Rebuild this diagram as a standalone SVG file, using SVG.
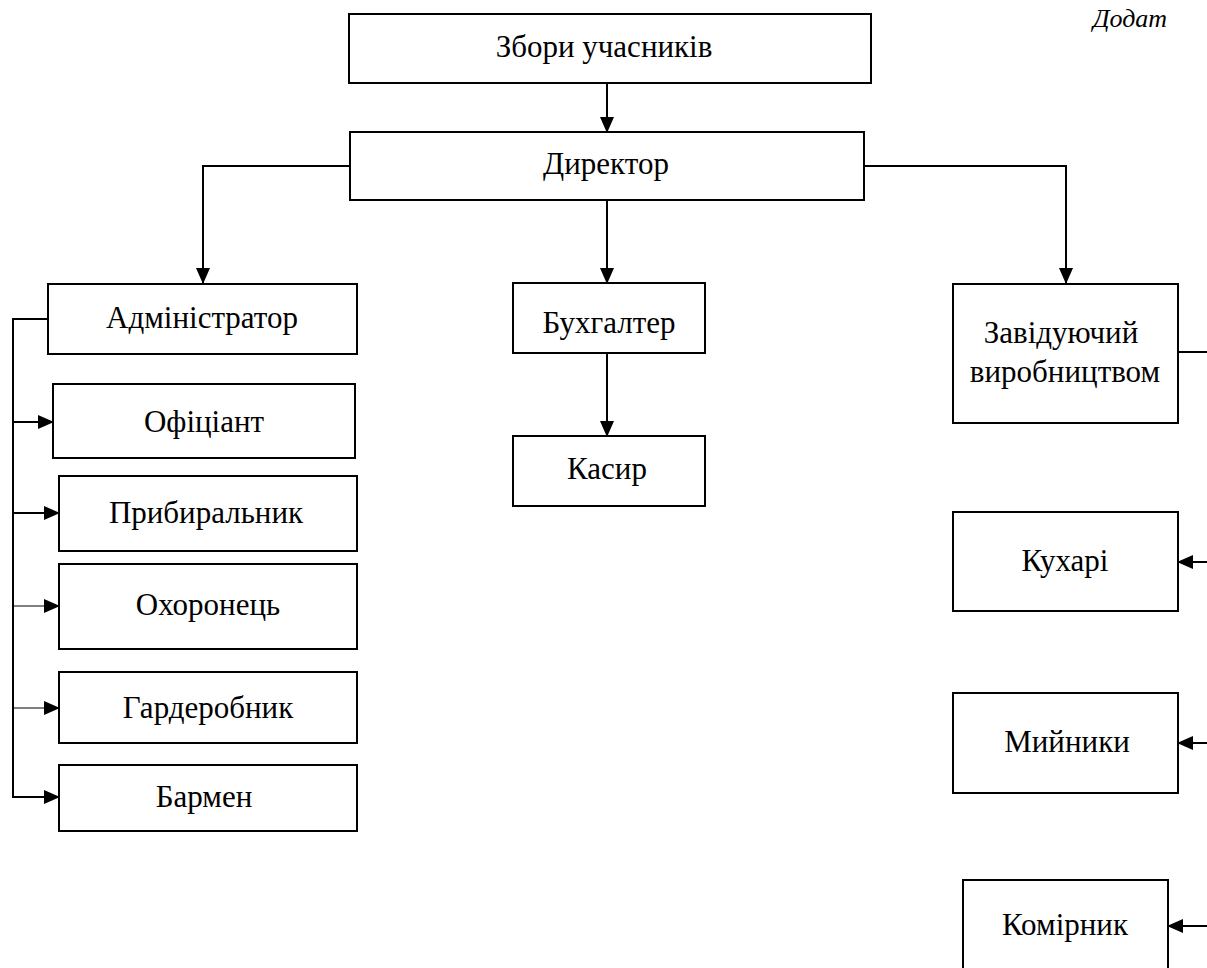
<svg xmlns="http://www.w3.org/2000/svg" width="1207" height="968" viewBox="0 0 1207 968">
<style>
.box{fill:#fff;stroke:#000;stroke-width:2}
.lbl{font-family:"Liberation Serif","Times New Roman",serif;font-size:31px;fill:#000;text-anchor:middle}
.ln{fill:none;stroke:#000;stroke-width:2}
.thin{fill:none;stroke:#000;stroke-width:1.2}
</style>
<defs>
<marker id="ah" markerWidth="16" markerHeight="14" refX="15" refY="7" orient="auto" markerUnits="userSpaceOnUse">
<path d="M0,0 L16,7 L0,14 Z" fill="#000"/>
</marker>
</defs>
<rect width="1207" height="968" fill="#fff"/>
<text x="1093" y="27" style="font-family:'Liberation Serif',serif;font-size:26px;font-style:italic">Додат</text>
<g id="connectors">
<path class="ln" d="M607,83 V132" marker-end="url(#ah)"/>
<path class="ln" d="M350,166 H203 V283" marker-end="url(#ah)"/>
<path class="ln" d="M607,200 V283" marker-end="url(#ah)"/>
<path class="ln" d="M864,166 H1066 V283" marker-end="url(#ah)"/>
<path class="ln" d="M607,353 V436" marker-end="url(#ah)"/>
<path class="ln" d="M48,319 H13 V797 H59" marker-end="url(#ah)"/>
<path class="ln" d="M13,422 H53" marker-end="url(#ah)"/>
<path class="ln" d="M13,513 H59" marker-end="url(#ah)"/>
<path class="thin" d="M13,606 H59" marker-end="url(#ah)"/>
<path class="thin" d="M13,708 H59" marker-end="url(#ah)"/>
<path class="ln" d="M1178,352 H1207"/>
<path class="ln" d="M1207,562 H1178" marker-end="url(#ah)"/>
<path class="ln" d="M1207,743 H1178" marker-end="url(#ah)"/>
<path class="ln" d="M1207,926 H1168" marker-end="url(#ah)"/>
</g>
<g id="zbory"><rect class="box" x="349" y="14" width="522" height="69"/><text class="lbl" x="604" y="57">Збори учасників</text></g>
<g id="dyrektor"><rect class="box" x="350" y="132" width="514" height="68"/><text class="lbl" x="606" y="174">Директор</text></g>
<g id="admin"><rect class="box" x="48" y="284" width="309" height="70"/><text class="lbl" x="202" y="328">Адміністратор</text></g>
<g id="buhgalter"><rect class="box" x="513" y="283" width="192" height="70"/><text class="lbl" x="609" y="333">Бухгалтер</text></g>
<g id="kasyr"><rect class="box" x="513" y="436" width="192" height="70"/><text class="lbl" x="607" y="479">Касир</text></g>
<g id="zaviduyuchyi"><rect class="box" x="953" y="284" width="225" height="139"/><text class="lbl" x="1061" y="343">Завідуючий</text><text class="lbl" x="1065" y="382">виробництвом</text></g>
<g id="ofitsiant"><rect class="box" x="53" y="384" width="302" height="74"/><text class="lbl" x="204" y="432">Офіціант</text></g>
<g id="prybyralnyk"><rect class="box" x="59" y="476" width="298" height="75"/><text class="lbl" x="206" y="523">Прибиральник</text></g>
<g id="okhoronets"><rect class="box" x="59" y="564" width="298" height="85"/><text class="lbl" x="208" y="615">Охоронець</text></g>
<g id="garderobnyk"><rect class="box" x="59" y="672" width="298" height="71"/><text class="lbl" x="208" y="718">Гардеробник</text></g>
<g id="barmen"><rect class="box" x="59" y="765" width="298" height="66"/><text class="lbl" x="204" y="807">Бармен</text></g>
<g id="kukhari"><rect class="box" x="953" y="512" width="225" height="99"/><text class="lbl" x="1065" y="571">Кухарі</text></g>
<g id="myinyky"><rect class="box" x="953" y="693" width="225" height="100"/><text class="lbl" x="1067" y="752">Мийники</text></g>
<g id="komirnyk"><rect class="box" x="963" y="880" width="205" height="100"/><text class="lbl" x="1065" y="935">Комірник</text></g>
</svg>
